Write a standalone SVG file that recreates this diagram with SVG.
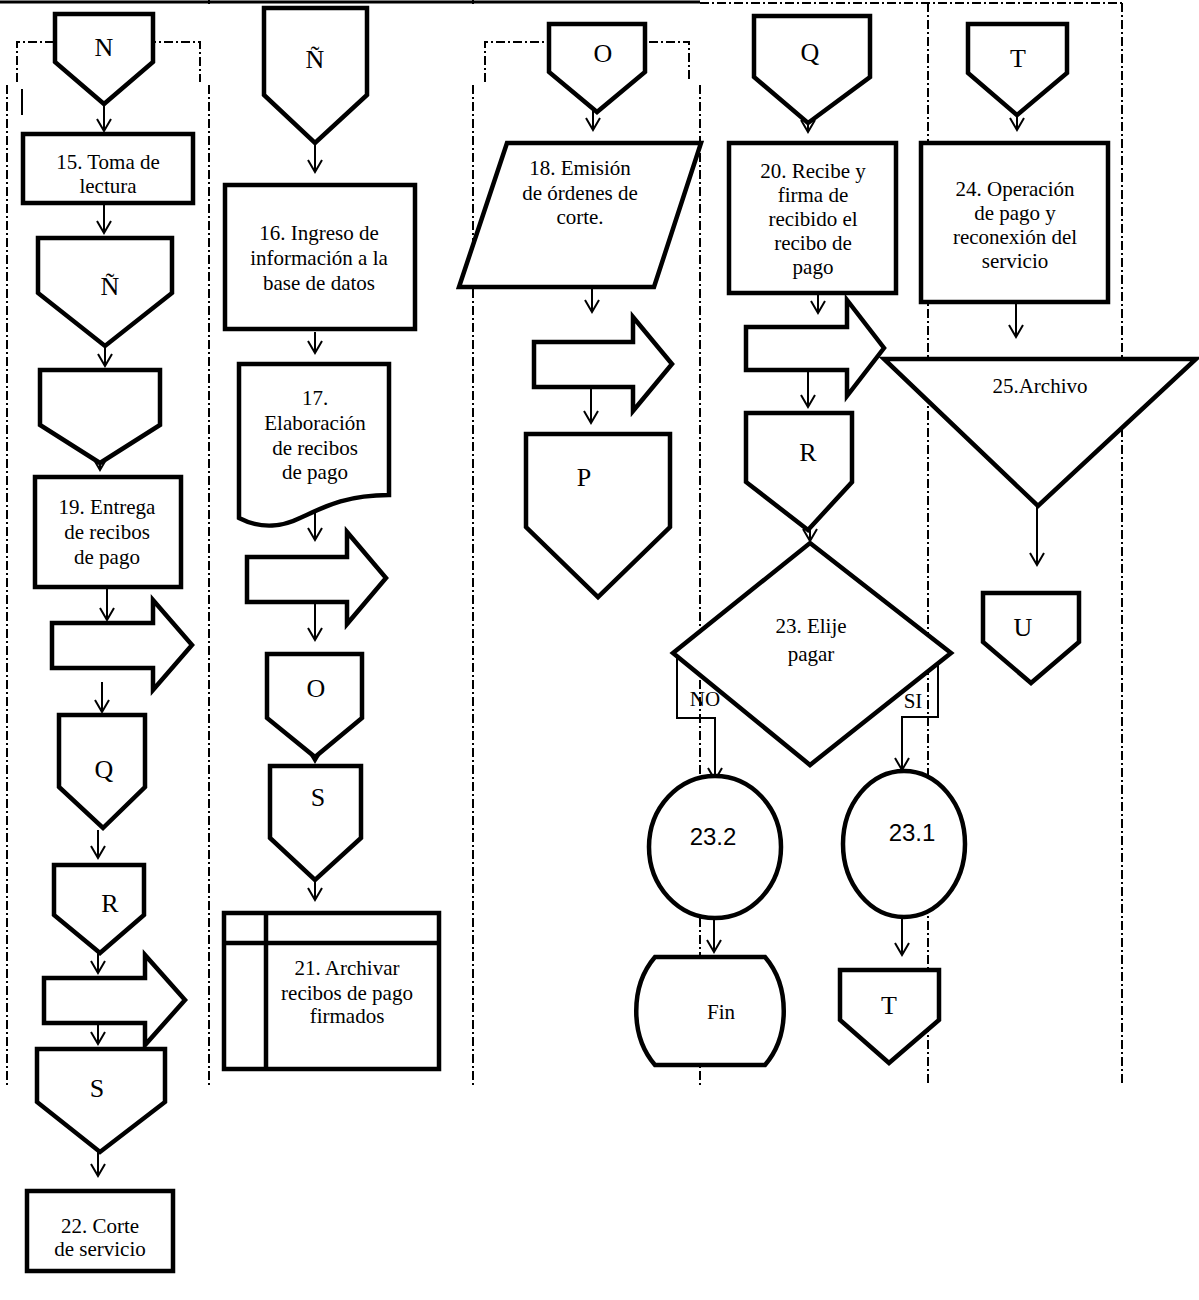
<svg xmlns="http://www.w3.org/2000/svg" width="1199" height="1300" viewBox="0 0 1199 1300">
<style>
.s{fill:#fff;stroke:#000;stroke-width:4.5;stroke-linejoin:miter}
.b{fill:#fff;stroke:#000;stroke-width:4.5}
.t{font-family:"Liberation Serif","Times New Roman",serif;font-size:21px;fill:#000;text-anchor:middle}
.L{font-family:"Liberation Serif","Times New Roman",serif;font-size:26px;fill:#000;text-anchor:middle}
.a{font-family:"Liberation Sans",Arial,sans-serif;font-size:24px;fill:#000;text-anchor:middle}
.c{fill:none;stroke:#000;stroke-width:2}
.d{fill:none;stroke:#000;stroke-width:2;stroke-dasharray:9 3 2 3}
</style>
<defs>
<marker id="v" markerUnits="userSpaceOnUse" markerWidth="18" markerHeight="18" refX="14" refY="8" orient="auto" viewBox="0 0 18 18">
<path d="M2,1 L14,8 L2,15" fill="none" stroke="#000" stroke-width="2"/>
</marker>
</defs>
<rect width="1199" height="1300" fill="#fff"/>
<g id="lanes">
<line x1="0" y1="2" x2="700" y2="2" stroke="#000" stroke-width="3"/>
<line x1="209" y1="0" x2="209" y2="4" stroke="#000" stroke-width="2"/>
<line x1="473" y1="0" x2="473" y2="4" stroke="#000" stroke-width="2"/>
<line x1="700" y1="3" x2="1122" y2="3" class="d" stroke-width="3"/>
<polyline points="17,82 17,42 200,42 200,82" class="d"/>
<line x1="7" y1="85" x2="7" y2="1085" class="d"/>
<line x1="209" y1="85" x2="209" y2="1085" class="d"/>
<polyline points="485,82 485,42 689,42 689,82" class="d"/>
<line x1="473" y1="85" x2="473" y2="1085" class="d"/>
<line x1="700" y1="85" x2="700" y2="1085" class="d"/>
<line x1="928" y1="3" x2="928" y2="1085" class="d"/>
<line x1="1122" y1="3" x2="1122" y2="1085" class="d"/>
<line x1="22" y1="89" x2="22" y2="115" stroke="#000" stroke-width="2"/>
</g>
<g id="connectors">
<line x1="104" y1="100" x2="104" y2="131" class="c" marker-end="url(#v)"/>
<line x1="104" y1="203" x2="104" y2="233" class="c" marker-end="url(#v)"/>
<line x1="105" y1="343" x2="105" y2="366" class="c" marker-end="url(#v)"/>
<line x1="100" y1="452" x2="100" y2="470" class="c" marker-end="url(#v)"/>
<line x1="107" y1="589" x2="107" y2="620" class="c" marker-end="url(#v)"/>
<line x1="102" y1="682" x2="102" y2="712" class="c" marker-end="url(#v)"/>
<line x1="98" y1="830" x2="98" y2="858" class="c" marker-end="url(#v)"/>
<line x1="98" y1="950" x2="98" y2="973" class="c" marker-end="url(#v)"/>
<line x1="98" y1="1005" x2="98" y2="1044" class="c" marker-end="url(#v)"/>
<line x1="98" y1="1152" x2="98" y2="1176" class="c" marker-end="url(#v)"/>
<line x1="315" y1="143" x2="315" y2="172" class="c" marker-end="url(#v)"/>
<line x1="315" y1="332" x2="315" y2="353" class="c" marker-end="url(#v)"/>
<line x1="315" y1="512" x2="315" y2="540" class="c" marker-end="url(#v)"/>
<line x1="315" y1="602" x2="315" y2="640" class="c" marker-end="url(#v)"/>
<line x1="315" y1="740" x2="315" y2="762" class="c" marker-end="url(#v)"/>
<line x1="315" y1="880" x2="315" y2="900" class="c" marker-end="url(#v)"/>
<line x1="593" y1="105" x2="593" y2="130" class="c" marker-end="url(#v)"/>
<line x1="592" y1="288" x2="592" y2="312" class="c" marker-end="url(#v)"/>
<line x1="591" y1="380" x2="591" y2="423" class="c" marker-end="url(#v)"/>
<line x1="808" y1="112" x2="808" y2="132" class="c" marker-end="url(#v)"/>
<line x1="818" y1="294" x2="818" y2="313" class="c" marker-end="url(#v)"/>
<line x1="808" y1="370" x2="808" y2="407" class="c" marker-end="url(#v)"/>
<line x1="810" y1="522" x2="810" y2="541" class="c" marker-end="url(#v)"/>
<polyline points="677,657 677,718 715,718 715,780" class="c" marker-end="url(#v)"/>
<polyline points="938,658 938,717 902,717 902,770" class="c" marker-end="url(#v)"/>
<line x1="714" y1="918" x2="714" y2="952" class="c" marker-end="url(#v)"/>
<line x1="902" y1="910" x2="902" y2="955" class="c" marker-end="url(#v)"/>
<line x1="1017" y1="112" x2="1017" y2="130" class="c" marker-end="url(#v)"/>
<line x1="1016" y1="304" x2="1016" y2="337" class="c" marker-end="url(#v)"/>
<line x1="1037" y1="507" x2="1037" y2="565" class="c" marker-end="url(#v)"/>
<text x="705" y="706" class="t" font-size="19">NO</text>
<text x="913" y="708" class="t" font-size="19">SI</text>
</g>
<g id="N1"><polygon class="s" points="55,14 153,14 153,62 104,104 55,62"/><text x="104" y="56" class="L">N</text></g>
<g id="n15"><rect class="s" x="23" y="134" width="170" height="69"/><text x="108" y="169" class="t">15. Toma de</text><text x="108" y="193" class="t">lectura</text></g>
<g id="Ntilde1"><polygon class="s" points="38,238 172,238 172,293 105,346 38,293"/><text x="110" y="295" class="L">Ñ</text></g>
<g id="empty1"><polygon class="s" points="40,370 160,370 160,425 100,463 40,425"/></g>
<g id="n19"><rect class="s" x="35" y="477" width="146" height="110"/><text x="107" y="514" class="t">19. Entrega</text><text x="107" y="539" class="t">de recibos</text><text x="107" y="564" class="t">de pago</text></g>
<g id="ba1"><polygon class="b" points="52,623 153,623 153,600 192,645 153,690 153,668 52,668"/></g>
<g id="Q1"><polygon class="s" points="59,715 145,715 145,787 103,828 59,787"/><text x="104" y="778" class="L">Q</text></g>
<g id="R1"><polygon class="s" points="54,865 144,865 144,915 100,953 54,915"/><text x="110" y="912" class="L">R</text></g>
<g id="ba2"><polygon class="b" points="44,978 145,978 145,955 185,1000 145,1045 145,1023 44,1023"/></g>
<g id="S1"><polygon class="s" points="37,1049 165,1049 165,1102 100,1152 37,1102"/><text x="97" y="1097" class="L">S</text></g>
<g id="n22"><rect class="s" x="27" y="1191" width="146" height="80"/><text x="100" y="1233" class="t">22. Corte</text><text x="100" y="1256" class="t">de servicio</text></g>
<g id="Ntilde2"><polygon class="s" points="264,8 367,8 367,95 315,143 264,95"/><text x="315" y="68" class="L">Ñ</text></g>
<g id="n16"><rect class="s" x="225" y="185" width="190" height="144"/><text x="319" y="240" class="t">16. Ingreso de</text><text x="319" y="265" class="t">información a la</text><text x="319" y="290" class="t">base de datos</text></g>
<g id="n17"><path class="s" d="M239,364 L389,364 L389,495 C345,495 322,508 300,518 C284,526 262,530 239,518 Z"/><text x="315" y="405" class="t">17.</text><text x="315" y="430" class="t">Elaboración</text><text x="315" y="455" class="t">de recibos</text><text x="315" y="479" class="t">de pago</text></g>
<g id="ba3"><polygon class="b" points="247,557 347,557 347,532 386,578 347,624 347,602 247,602"/></g>
<g id="O2"><polygon class="s" points="267,654 362,654 362,718 315,757 267,718"/><text x="316" y="697" class="L">O</text></g>
<g id="S2"><polygon class="s" points="270,766 361,766 361,838 315,880 270,838"/><text x="318" y="806" class="L">S</text></g>
<g id="n21"><rect class="s" x="224" y="913" width="215" height="156"/><line x1="266" y1="913" x2="266" y2="1069" stroke="#000" stroke-width="4.5"/><line x1="224" y1="943" x2="439" y2="943" stroke="#000" stroke-width="4.5"/><text x="347" y="975" class="t">21. Archivar</text><text x="347" y="1000" class="t">recibos de pago</text><text x="347" y="1023" class="t">firmados</text></g>
<g id="O3"><polygon class="s" points="549,24 645,24 645,72 597,112 549,72"/><text x="603" y="62" class="L">O</text></g>
<g id="n18"><polygon class="s" points="507,143 701,143 654,287 459,287"/><text x="580" y="175" class="t">18. Emisión</text><text x="580" y="200" class="t">de órdenes de</text><text x="580" y="224" class="t">corte.</text></g>
<g id="ba4"><polygon class="b" points="534,342 633,342 633,317 672,364 633,411 633,387 534,387"/></g>
<g id="P"><polygon class="s" points="526,434 670,434 670,527 598,597 526,527"/><text x="584" y="486" class="L">P</text></g>
<g id="Q4"><polygon class="s" points="754,16 870,16 870,77 808,123 754,77"/><text x="810" y="61" class="L">Q</text></g>
<g id="n20"><rect class="s" x="729" y="143" width="167" height="150"/><text x="813" y="178" class="t">20. Recibe y</text><text x="813" y="202" class="t">firma de</text><text x="813" y="226" class="t">recibido el</text><text x="813" y="250" class="t">recibo de</text><text x="813" y="274" class="t">pago</text></g>
<g id="ba5"><polygon class="b" points="746,327 847,327 847,300 884,348 847,396 847,370 746,370"/></g>
<g id="R4"><polygon class="s" points="746,413 852,413 852,482 808,530 746,482"/><text x="808" y="461" class="L">R</text></g>
<g id="n23"><polygon class="s" points="810,543 951,653 810,765 673,653"/><text x="811" y="633" class="t">23. Elije</text><text x="811" y="661" class="t">pagar</text></g>
<g id="c232"><ellipse class="s" cx="715" cy="847" rx="66" ry="71"/><text x="713" y="845" class="a">23.2</text></g>
<g id="c231"><ellipse class="s" cx="904" cy="844" rx="61" ry="73"/><text x="912" y="841" class="a">23.1</text></g>
<g id="fin"><path class="s" d="M655,957 H765 C790,986 790,1036 765,1065 H655 C630,1036 630,986 655,957 Z"/><text x="721" y="1019" class="t" font-size="19">Fin</text></g>
<g id="T4"><polygon class="s" points="840,970 939,970 939,1020 889,1063 840,1020"/><text x="889" y="1014" class="L">T</text></g>
<g id="T5"><polygon class="s" points="968,24 1067,24 1067,73 1017,115 968,73"/><text x="1018" y="67" class="L">T</text></g>
<g id="n24"><rect class="s" x="921" y="143" width="187" height="159"/><text x="1015" y="196" class="t">24. Operación</text><text x="1015" y="220" class="t">de pago y</text><text x="1015" y="244" class="t">reconexión del</text><text x="1015" y="268" class="t">servicio</text></g>
<g id="n25"><polygon class="s" points="884,359 1196,359 1038,506"/><text x="1040" y="393" class="t">25.Archivo</text></g>
<g id="U"><polygon class="s" points="983,593 1079,593 1079,642 1031,683 983,642"/><text x="1023" y="636" class="L">U</text></g>
</svg>
